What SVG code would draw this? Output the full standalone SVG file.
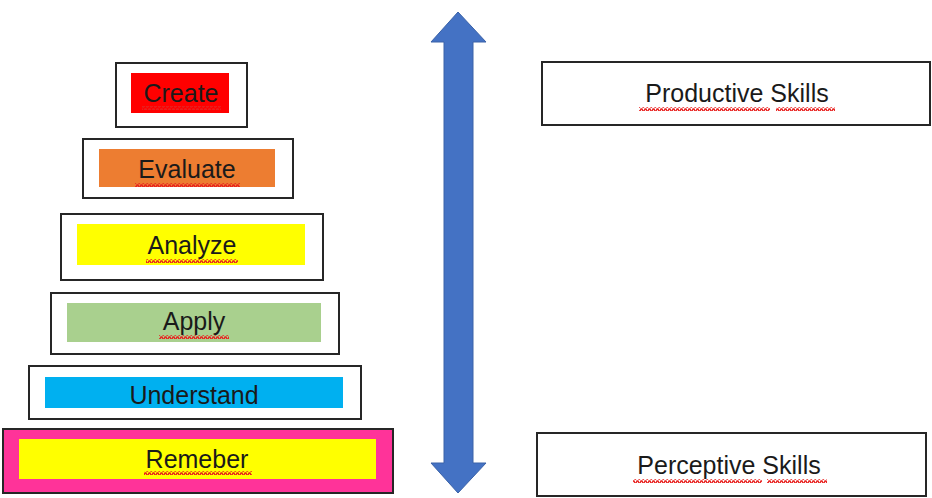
<svg xmlns="http://www.w3.org/2000/svg" width="932" height="498" viewBox="0 0 932 498">
<style>
.box{fill:#fff;stroke:#262626;stroke-width:2}
.t{font-family:"Liberation Sans",Arial,sans-serif;font-size:25px;fill:#1a1a1a;text-anchor:middle}
</style>
<defs>
<pattern id="wave" width="4" height="4" patternUnits="userSpaceOnUse">
<path d="M0,3 L1,1 L2,1 L3,3 L4,3" fill="none" stroke="#e8201e" stroke-width="1.4"/>
</pattern>
</defs>
<rect width="932" height="498" fill="#fff"/>
<g id="create">
<rect class="box" x="116" y="63" width="131" height="64"/>
<rect x="131" y="73" width="98" height="40" fill="#ff0000"/>
<text class="t" x="181" y="102">Create</text>
<rect x="142" y="106" width="79" height="4" fill="url(#wave)"/>
</g>
<g id="evaluate">
<rect class="box" x="83" y="139" width="210" height="59"/>
<rect x="99" y="149" width="176" height="38" fill="#ed7d31"/>
<text class="t" x="187" y="178">Evaluate</text>
<rect x="135" y="183" width="105" height="4" fill="url(#wave)"/>
</g>
<g id="analyze">
<rect class="box" x="61" y="214" width="262" height="66"/>
<rect x="77" y="224" width="228" height="41" fill="#ffff00"/>
<text class="t" x="192" y="254">Analyze</text>
<rect x="146" y="259" width="92" height="4" fill="url(#wave)"/>
</g>
<g id="apply">
<rect class="box" x="51" y="293" width="288" height="61"/>
<rect x="67" y="303" width="254" height="39" fill="#a9d08e"/>
<text class="t" x="194" y="330">Apply</text>
<rect x="159" y="335" width="70" height="4" fill="url(#wave)"/>
</g>
<g id="understand">
<rect class="box" x="29" y="366" width="332" height="53"/>
<rect x="45" y="377" width="298" height="31" fill="#00b0f0"/>
<text class="t" x="194" y="404">Understand</text>
</g>
<g id="remeber">
<rect x="3" y="429" width="390" height="64" fill="#ff3399" stroke="#262626" stroke-width="2"/>
<rect x="19" y="439" width="357" height="40" fill="#ffff00"/>
<text class="t" x="197" y="468">Remeber</text>
<rect x="144" y="471" width="108" height="4" fill="url(#wave)"/>
</g>
<g id="connectors">
<path d="M458,12 L486,42 L473,42 L473,463 L486,463 L458,493 L431,463 L444,463 L444,42 L431,42 Z" fill="#4472c4" stroke="#3a62a8" stroke-width="1"/>
</g>
<g id="productive">
<rect class="box" x="542" y="62" width="388" height="63"/>
<text class="t" x="737" y="102">Productive Skills</text>
<rect x="639" y="107" width="131" height="4" fill="url(#wave)"/>
<rect x="776" y="107" width="59" height="4" fill="url(#wave)"/>
</g>
<g id="perceptive">
<rect class="box" x="537" y="433" width="389" height="63"/>
<text class="t" x="729" y="474">Perceptive Skills</text>
<rect x="633" y="479" width="129" height="4" fill="url(#wave)"/>
<rect x="767" y="479" width="60" height="4" fill="url(#wave)"/>
</g>
</svg>
